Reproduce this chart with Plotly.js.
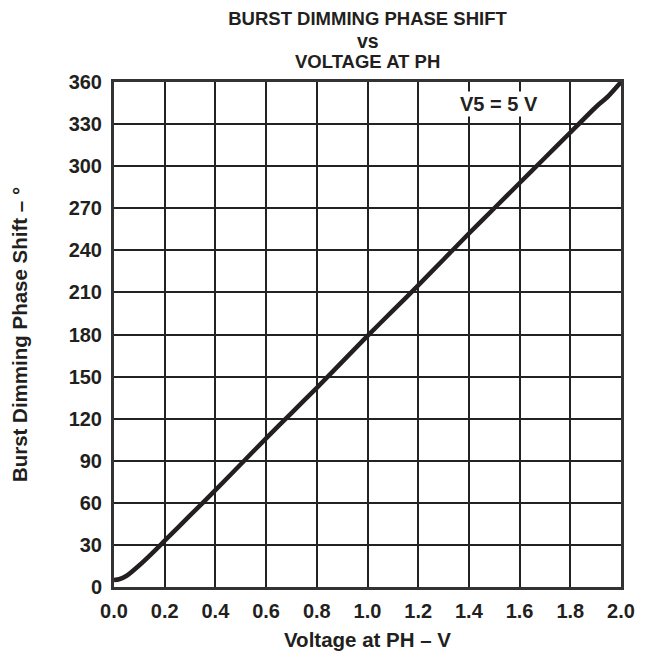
<!DOCTYPE html>
<html>
<head>
<meta charset="utf-8">
<script src="https://cdn.plot.ly/plotly-3.0.1.min.js"></script>
<style>html,body{margin:0;padding:0;background:#fff;}#chart{width:646px;height:653px;}</style>
</head>
<body>
<div id="chart"></div>
<script>
// Data
const voltage = [0.0, 0.02, 0.05, 0.1, 0.15, 0.2, 0.3, 0.4, 0.5, 0.6, 0.7, 0.8, 0.9, 1.0, 1.1, 1.2, 1.3, 1.4, 1.5, 1.6, 1.7, 1.8, 1.9, 1.95, 2.0];
const phaseShift = [5, 5.5, 8, 15.5, 24, 33, 51, 69, 87.5, 106, 124, 142, 160.5, 179, 197, 215, 233.5, 252, 270, 288, 306, 324, 342, 350, 360];
const xTicks = [0.0, 0.2, 0.4, 0.6, 0.8, 1.0, 1.2, 1.4, 1.6, 1.8, 2.0];
const xTickLabels = ['0.0','0.2','0.4','0.6','0.8','1.0','1.2','1.4','1.6','1.8','2.0'];
const yTicks = [0, 30, 60, 90, 120, 150, 180, 210, 240, 270, 300, 330, 360];
const titleLines = ['BURST DIMMING PHASE SHIFT', 'vs', 'VOLTAGE AT PH'];
const conditionLabel = 'V5 = 5 V';

const ink = '#231f20';
const tickFont = {family: 'Arial, "Liberation Sans", sans-serif', size: 20, color: ink, weight: 'bold'};
const titleFont = {family: 'Arial, "Liberation Sans", sans-serif', size: 18.5, color: ink, weight: 'bold'};
const axTitleFont = {family: 'Arial, "Liberation Sans", sans-serif', size: 20.5, color: ink, weight: 'bold'};

const trace = {
  x: voltage, y: phaseShift, type: 'scatter', mode: 'lines',
  line: {color: ink, width: 4.5, shape: 'spline', smoothing: 0.6},
  hoverinfo: 'skip', showlegend: false
};

const layout = {
  width: 646, height: 653,
  margin: {l: 114, r: 25, t: 82, b: 66},
  paper_bgcolor: '#fff', plot_bgcolor: '#fff',
  title: {text: titleLines[0], font: titleFont, x: 0.5, xref: 'paper', y: 1, yref: 'container', yanchor: 'top', pad: {t: 12}},
  xaxis: {
    range: [0, 2], tickmode: 'array', tickvals: xTicks, ticktext: xTickLabels,
    showgrid: true, gridcolor: '#222', gridwidth: 2,
    showline: true, linecolor: '#333', linewidth: 3, mirror: true,
    ticks: '', tickfont: tickFont, ticklabelstandoff: 4,
    zeroline: false, fixedrange: true,
    title: {text: 'Voltage at PH – V', font: axTitleFont, standoff: 12}
  },
  yaxis: {
    range: [0, 360], tickmode: 'array', tickvals: yTicks,
    showgrid: true, gridcolor: '#222', gridwidth: 2,
    showline: true, linecolor: '#333', linewidth: 3, mirror: true,
    ticks: '', tickfont: tickFont, ticklabelstandoff: 5,
    zeroline: false, fixedrange: true,
    title: {text: 'Burst Dimming Phase Shift – °', font: axTitleFont, standoff: 36}
  },
  annotations: [
    {text: titleLines[1], xref: 'paper', yref: 'paper', x: 0.5, y: 1, yshift: 41, showarrow: false, font: {...titleFont, size: 19.5}, xanchor: 'center', yanchor: 'middle'},
    {text: titleLines[2], xref: 'paper', yref: 'paper', x: 0.5, y: 1, yshift: 21, showarrow: false, font: titleFont, xanchor: 'center', yanchor: 'middle'},
    {text: conditionLabel, xref: 'x', yref: 'y', x: 1.52, y: 344, showarrow: false, font: tickFont, xanchor: 'center', yanchor: 'middle', bgcolor: '#fff'}
  ]
};

Plotly.newPlot('chart', [trace], layout, {staticPlot: true, displayModeBar: false});
</script>
</body>
</html>
